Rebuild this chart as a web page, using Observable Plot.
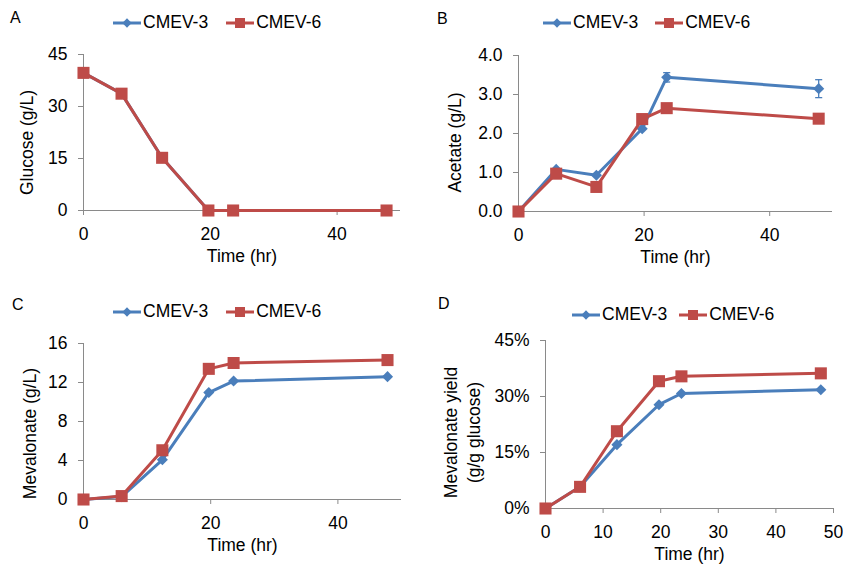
<!DOCTYPE html>
<html><head><meta charset="utf-8">
<script src="https://cdn.jsdelivr.net/npm/d3@7"></script>
<script src="https://cdn.jsdelivr.net/npm/@observablehq/plot@0.6"></script>
<style>
body{margin:0;background:#fff;font-family:"Liberation Sans",Arial,sans-serif;}
#chart{position:relative;width:843px;height:564px;overflow:hidden;background:#fff;}
.panel{position:absolute;}
.panel > svg{position:absolute;left:0;top:0;}
.letter{position:absolute;font-size:16px;line-height:1;color:#000;}
.legend{position:absolute;display:flex;align-items:center;font-size:17.5px;line-height:1;color:#000;white-space:nowrap;}
.item{display:flex;align-items:center;}
.item svg{display:block;margin-right:2px;}
</style></head><body><div id="chart"></div><script>
// ---- data ----
const time = [0, 6, 12.4, 19.7, 23.6, 47.8];
const seriesNames = ["CMEV-3", "CMEV-6"];
const glucose3 = [39.7, 33.7, 15.2, 0, 0, 0];
const glucose6 = [39.7, 33.7, 15.2, 0, 0, 0];
const acetate3 = [0, 1.08, 0.93, 2.12, 3.44, 3.15];
const acetate6 = [0, 0.97, 0.63, 2.37, 2.65, 2.38];
const acetate3Err = [0, 0, 0, 0, 0.12, 0.23];
const meval3 = [0, 0.3, 4.07, 10.97, 12.15, 12.6];
const meval6 = [0, 0.35, 5.05, 13.4, 14.0, 14.3];
const yield3 = [0, 5.8, 17.1, 27.8, 30.8, 31.8];
const yield6 = [0, 5.8, 20.7, 34.1, 35.4, 36.2];
const xTicksCoarse = [0, 20, 40];
const xTicksFine = [0, 10, 20, 30, 40, 50];

const colors = {"CMEV-3": "#4A7EBB", "CMEV-6": "#BE4B48"};
const symbols = {"CMEV-3": "diamond2", "CMEV-6": "square"};
const AXIS = "#8a8a8a";
const FONT = '"Liberation Sans", Arial, sans-serif';

const capSymbol = {draw(ctx, size) { const w = Math.sqrt(size) / 2; ctx.moveTo(-w, 0); ctx.lineTo(w, 0); }};

const panels = [
  {letter: "A", values: [glucose3, glucose6], err: null, yDomain: [0, 45], yTicks: [0, 15, 30, 45], yFormat: d => String(d),
   xTicks: xTicksCoarse, ylabel: "Glucose (g/L)",
   box: {left: 0, top: 0, width: 421, height: 282}, m: {l: 83, r: 21, t: 54, b: 72},
   labelDx: -58, labelDy: 10, letterPos: [10, 10], legendPos: [113, 23], legendGap: 18},
  {letter: "B", values: [acetate3, acetate6], err: acetate3Err, yDomain: [0, 4], yTicks: [0, 1, 2, 3, 4], yFormat: d => d.toFixed(1),
   xTicks: xTicksCoarse, ylabel: "Acetate (g/L)",
   box: {left: 421, top: 0, width: 422, height: 282}, m: {l: 97, r: 11, t: 55, b: 71},
   labelDx: -65, labelDy: 9, letterPos: [16, 11], legendPos: [122, 23], legendGap: 17},
  {letter: "C", values: [meval3, meval6], err: null, yDomain: [0, 16], yTicks: [0, 4, 8, 12, 16], yFormat: d => String(d),
   xTicks: xTicksCoarse, ylabel: "Mevalonate (g/L)",
   box: {left: 0, top: 282, width: 421, height: 282}, m: {l: 83, r: 20, t: 61, b: 65},
   labelDx: -55, labelDy: 12, letterPos: [12, 15], legendPos: [113, 30], legendGap: 18},
  {letter: "D", values: [yield3, yield6], err: null, yDomain: [0, 45], yTicks: [0, 15, 30, 45], yFormat: d => d + "%",
   xTicks: xTicksFine, ylabel: "Mevalonate yield\n(g/g glucose)",
   box: {left: 421, top: 282, width: 422, height: 282}, m: {l: 124, r: 10, t: 58, b: 56},
   labelDx: -84, labelDy: 8, letterPos: [17, 14], legendPos: [151, 33], legendGap: 12}
];

const chart = document.getElementById("chart");

for (const p of panels) {
  const rows = seriesNames.map((s, k) => time.map((t, i) => ({t, v: p.values[k][i], s})));
  const marks = [
    Plot.ruleY([p.yDomain[0]], {stroke: AXIS, strokeWidth: 1}),
    Plot.ruleX([0], {stroke: AXIS, strokeWidth: 1}),
    Plot.axisX({ticks: p.xTicks, tickSize: 5, tickPadding: 12, stroke: AXIS, fill: "#000", fontSize: 17.5, label: null}),
    Plot.axisY({ticks: p.yTicks, tickFormat: p.yFormat, tickSize: 5, tickPadding: 11, stroke: AXIS, fill: "#000", fontSize: 17.5, label: null}),
    Plot.text([p.ylabel], {frameAnchor: "left", textAnchor: "middle", lineAnchor: "middle", rotate: -90, dx: p.labelDx, dy: p.labelDy, fontSize: 17.5, lineHeight: 1.3, fill: "#000"}),
    Plot.text(["Time (hr)"], {frameAnchor: "bottom", textAnchor: "middle", lineAnchor: "middle", dy: 46, fontSize: 17.5, fill: "#000"})
  ];
  rows.forEach((data, k) => {
    const s = seriesNames[k];
    if (p.err && k === 0) {
      const errRows = time.map((t, i) => ({t, lo: p.values[0][i] - p.err[i], hi: p.values[0][i] + p.err[i], e: p.err[i]})).filter(d => d.e > 0);
      marks.push(Plot.ruleX(errRows, {x: "t", y1: "lo", y2: "hi", stroke: colors[s], strokeWidth: 1.3}));
      marks.push(Plot.dot(errRows, {x: "t", y: "lo", symbol: capSymbol, r: 4, fill: "none", stroke: colors[s], strokeWidth: 1.3}));
      marks.push(Plot.dot(errRows, {x: "t", y: "hi", symbol: capSymbol, r: 4, fill: "none", stroke: colors[s], strokeWidth: 1.3}));
    }
    marks.push(Plot.line(data, {x: "t", y: "v", stroke: colors[s], strokeWidth: 3, strokeLinejoin: "round"}));
    marks.push(Plot.dot(data, {x: "t", y: "v", symbol: symbols[s], r: s === "CMEV-6" ? 6.8 : 5, fill: colors[s], stroke: "none"}));
  });

  const svg = Plot.plot({
    width: p.box.width, height: p.box.height,
    marginLeft: p.m.l, marginRight: p.m.r, marginTop: p.m.t, marginBottom: p.m.b,
    x: {domain: [0, 50]},
    y: {domain: p.yDomain},
    style: {fontFamily: FONT, fontSize: "17.5px", color: "#000", background: "transparent", overflow: "visible"},
    marks
  });

  const div = document.createElement("div");
  div.className = "panel";
  Object.assign(div.style, {left: p.box.left + "px", top: p.box.top + "px", width: p.box.width + "px", height: p.box.height + "px"});
  div.appendChild(svg);

  const letter = document.createElement("div");
  letter.className = "letter";
  letter.textContent = p.letter;
  letter.style.left = p.letterPos[0] + "px";
  letter.style.top = p.letterPos[1] + "px";
  div.appendChild(letter);

  const legend = document.createElement("div");
  legend.className = "legend";
  legend.style.left = p.legendPos[0] + "px";
  legend.style.top = (p.legendPos[1] - 9) + "px";
  seriesNames.forEach((s, k) => {
    const item = document.createElement("div");
    item.className = "item";
    if (k > 0) item.style.marginLeft = p.legendGap + "px";
    const sw = d3.create("svg").attr("width", 28).attr("height", 18);
    sw.append("line").attr("x1", 0).attr("x2", 28).attr("y1", 9).attr("y2", 9).attr("stroke", colors[s]).attr("stroke-width", 3);
    const sym = s === "CMEV-6" ? d3.symbol(d3.symbolSquare, 100) : d3.symbol(d3.symbolDiamond2, 55);
    sw.append("path").attr("d", sym()).attr("transform", "translate(14,9)").attr("fill", colors[s]);
    item.appendChild(sw.node());
    const txt = document.createElement("span");
    txt.textContent = s;
    item.appendChild(txt);
    legend.appendChild(item);
  });
  div.appendChild(legend);
  chart.appendChild(div);
}
</script></body></html>
